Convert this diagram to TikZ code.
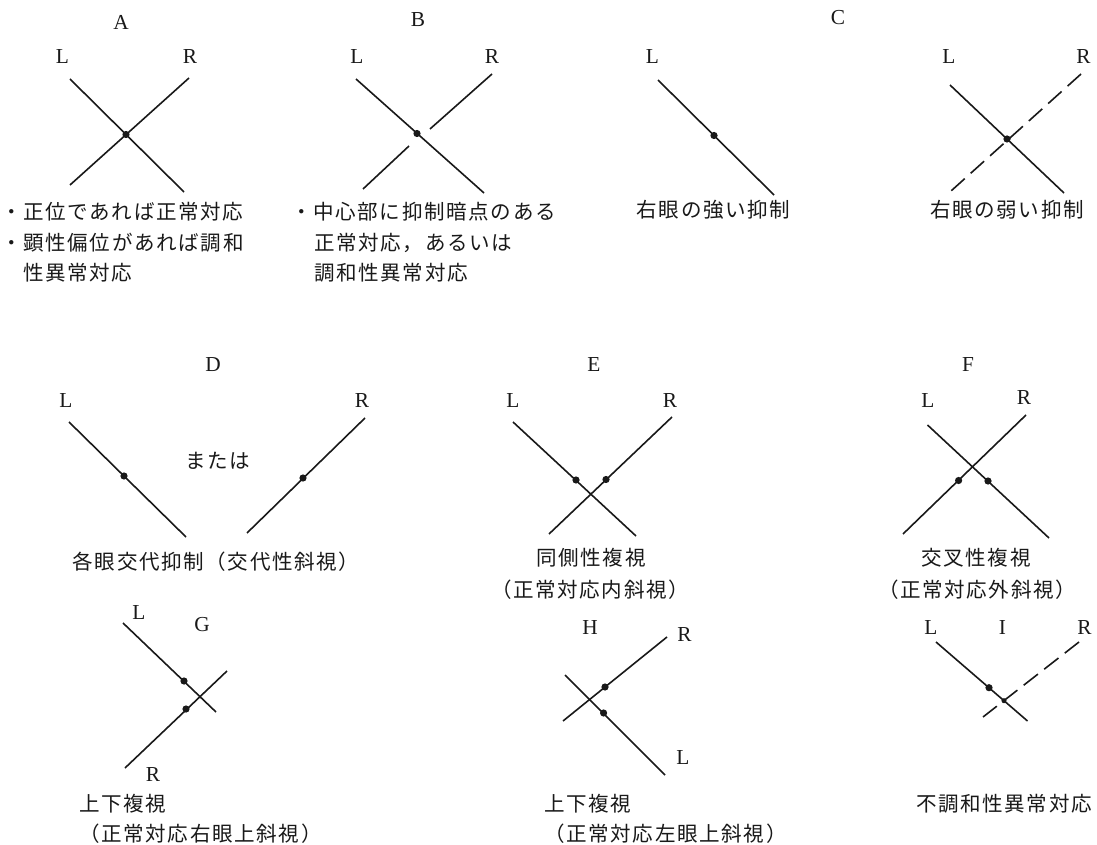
\documentclass[tikz,border=0pt]{standalone}
\usepackage{fontspec}
\newfontfamily\jp{Noto Sans CJK JP}[LetterSpace=8.0]
\newfontfamily\lat{Liberation Serif}
\definecolor{ink}{gray}{0.1}
\tikzset{
  ln/.style={line width=1.2pt, draw=ink},
  dsh/.style={line width=1.2pt, draw=ink, dash pattern=on 13.55pt off 6pt},
  lab/.style={inner sep=0pt, text=ink, font=\lat\fontsize{16}{18}\selectfont},
  jt/.style={inner sep=0pt, text=ink, font=\jp\fontsize{15.4}{18}\selectfont},
  jw/.style={jt, anchor=west},
  dotc/.style={circle, fill=ink, inner sep=0pt, minimum size=5.4pt}
}
\begin{document}
\begin{tikzpicture}[x=0.75pt, y=-0.75pt]
\useasboundingbox (0,0) rectangle (1097,845);
\fill[white] (0,0) rectangle (1097,845);

% ---------- A ----------
\node[lab] (A) at (121,22) {A};
\node[lab] (AL) at (62.5,57) {L};
\node[lab] (AR) at (190,57) {R};
\coordinate (a1) at (70,79);  \coordinate (a2) at (184,192);
\coordinate (a3) at (189,78); \coordinate (a4) at (70,185);
\draw[ln] (a1) -- (a2);
\draw[ln] (a3) -- (a4);
\node[dotc] (ad) at (126,134.5) {};
\node[jw] (ta1) at (1,212) {・正位であれば正常対応};
\node[jw] (ta2) at (1,243) {・顕性偏位があれば調和};
\node[jw] (ta3) at (23,273) {性異常対応};

% ---------- B ----------
\node[lab] (B) at (418,20) {B};
\node[lab] (BL) at (357,57) {L};
\node[lab] (BR) at (492,57) {R};
\coordinate (b1) at (356,79);  \coordinate (b2) at (484,193);
\coordinate (b3) at (492,74);  \coordinate (b4) at (430,129);
\coordinate (b5) at (409,146); \coordinate (b6) at (363,189);
\draw[ln] (b1) -- (b2);
\draw[ln] (b3) -- (b4);
\draw[ln] (b5) -- (b6);
\node[dotc] (bd) at (417,133.5) {};
\node[jw] (tb1) at (291,212) {・中心部に抑制暗点のある};
\node[jw] (tb2) at (314,243) {正常対応，あるいは};
\node[jw] (tb3) at (314,273) {調和性異常対応};

% ---------- C ----------
\node[lab] (C) at (838,18) {C};
\node[lab] (CL1) at (652.5,57) {L};
\coordinate (c1) at (658,80); \coordinate (c2) at (774,195);
\draw[ln] (c1) -- (c2);
\node[dotc] (cd1) at (714,135.5) {};
\node[jt] (tc1) at (713.5,210) {右眼の強い抑制};

\node[lab] (CL2) at (949,57) {L};
\node[lab] (CR2) at (1083.6,57) {R};
\coordinate (c3) at (950,85);  \coordinate (c4) at (1064,193);
\coordinate (c5) at (1081,74); \coordinate (c6) at (951,191);
\draw[ln] (c3) -- (c4);
\draw[dsh] (c5) -- (c6);
\node[dotc] (cd2) at (1007,139) {};
\node[jt] (tc2) at (1007,210) {右眼の弱い抑制};

% ---------- D ----------
\node[lab] (D) at (213,365) {D};
\node[lab] (DL) at (66,401) {L};
\node[lab] (DR) at (362,401) {R};
\coordinate (d1) at (69,422);  \coordinate (d2) at (186,537);
\coordinate (d3) at (365,418); \coordinate (d4) at (247,533);
\draw[ln] (d1) -- (d2);
\draw[ln] (d3) -- (d4);
\node[dotc] (dd1) at (124,476) {};
\node[dotc] (dd2) at (303,478) {};
\node[jt] (tdm) at (218,461) {または};
\node[jt] (td) at (216,562) {各眼交代抑制（交代性斜視）};

% ---------- E ----------
\node[lab] (E) at (594,365) {E};
\node[lab] (EL) at (513,401) {L};
\node[lab] (ER) at (670,401) {R};
\coordinate (e1) at (513,422); \coordinate (e2) at (636,536);
\coordinate (e3) at (672,417); \coordinate (e4) at (549,534);
\draw[ln] (e1) -- (e2);
\draw[ln] (e3) -- (e4);
\node[dotc] (ed1) at (576,480) {};
\node[dotc] (ed2) at (606,479.5) {};
\node[jt] (te1) at (591,558) {同側性複視};
\node[jt] (te2) at (590,590) {（正常対応内斜視）};

% ---------- F ----------
\node[lab] (F) at (968,365) {F};
\node[lab] (FL) at (928,401) {L};
\node[lab] (FR) at (1024,398) {R};
\coordinate (f1) at (927.5,425); \coordinate (f2) at (1049,538);
\coordinate (f3) at (1026,415);  \coordinate (f4) at (903,534);
\draw[ln] (f1) -- (f2);
\draw[ln] (f3) -- (f4);
\node[dotc] (fd1) at (958.6,480.5) {};
\node[dotc] (fd2) at (988,481) {};
\node[jt] (tf1) at (976,558) {交叉性複視};
\node[jt] (tf2) at (977,590) {（正常対応外斜視）};

% ---------- G ----------
\node[lab] (GL) at (139,613) {L};
\node[lab] (G) at (202,625) {G};
\node[lab] (GR) at (153,775) {R};
\coordinate (g1) at (123,623); \coordinate (g2) at (216,712);
\coordinate (g3) at (227,671); \coordinate (g4) at (125,768);
\draw[ln] (g1) -- (g2);
\draw[ln] (g3) -- (g4);
\node[dotc] (gd1) at (184,681) {};
\node[dotc] (gd2) at (186,709) {};
\node[jw] (tg1) at (79,804) {上下複視};
\node[jw] (tg2) at (79,834) {（正常対応右眼上斜視）};

% ---------- H ----------
\node[lab] (H) at (590,628) {H};
\node[lab] (HR) at (684.6,635) {R};
\node[lab] (HL) at (683,758) {L};
\coordinate (h1) at (667,637); \coordinate (h2) at (563,721);
\coordinate (h3) at (565,675); \coordinate (h4) at (665,775);
\draw[ln] (h1) -- (h2);
\draw[ln] (h3) -- (h4);
\node[dotc] (hd1) at (605,687) {};
\node[dotc] (hd2) at (603.6,713) {};
\node[jw] (th1) at (544,804) {上下複視};
\node[jw] (th2) at (544,834) {（正常対応左眼上斜視）};

% ---------- I ----------
\node[lab] (IL) at (931,628) {L};
\node[lab] (I) at (1002.5,628) {I};
\node[lab] (IR) at (1084.6,628) {R};
\coordinate (i1) at (936,642);  \coordinate (i2) at (1027.5,721);
\coordinate (i3) at (1079,642); \coordinate (i4) at (983,717);
\draw[ln] (i1) -- (i2);
\draw[dsh] (i3) -- (i4);
\node[dotc] (id1) at (989,687.7) {};
\node[dotc, minimum size=3.8pt] (id2) at (1004,700.7) {};
\node[jt] (ti) at (1004,804) {不調和性異常対応};
\end{tikzpicture}
\end{document}
